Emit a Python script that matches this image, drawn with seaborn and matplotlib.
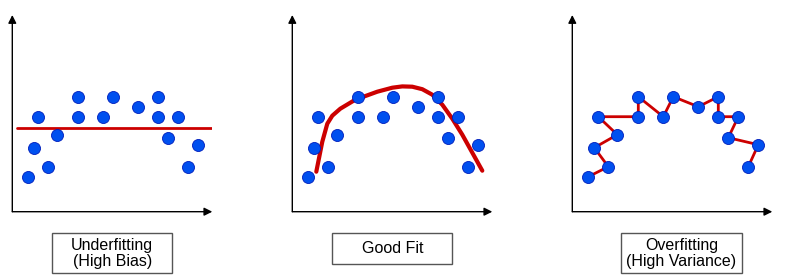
"""Underfitting / good fit / overfitting sketch."""
import matplotlib

matplotlib.use("Agg")
import matplotlib.pyplot as plt
import pandas as pd
import seaborn as sns
from matplotlib.patches import Rectangle

# shared sample points (same cloud in all three panels)
point_x = [16, 22, 26, 36, 45, 66, 66, 91, 101, 126, 146, 146, 156, 166, 176, 186]
point_y = [35, 64, 95, 45, 77, 115, 95, 95, 115, 105, 115, 95, 74, 95, 45, 67]

# underfitting: flat line
under_x = [5, 200]
under_y = [84, 84]

# good fit: smooth arch
good_x = [24, 30, 35, 40, 48, 63, 85, 100, 110, 120, 130, 140, 150, 160, 170, 180, 190]
good_y = [40, 70, 88, 96, 103, 112, 120, 124, 125.3, 125, 122.5, 117, 107, 93, 77, 59, 41]

# overfitting: zig-zag through every point, in this order
over_order = [0, 3, 1, 4, 2, 6, 5, 7, 8, 9, 10, 11, 13, 12, 15, 14]

labels = ["Underfitting\n(High Bias)", "Good Fit", "Overfitting\n(High Variance)"]

BLUE = "#0050EF"
BLUE_EDGE = "#001DBC"
RED = "#CC0000"

sns.set_style("white")
plt.rcParams["font.family"] = ["Liberation Sans", "DejaVu Sans"]

W, H = 788, 280
fig = plt.figure(figsize=(W / 100, H / 100), dpi=100)

points = pd.DataFrame({"x": point_x, "y": point_y})
over = points.iloc[over_order].reset_index(drop=True)
fits = [
    (pd.DataFrame({"x": under_x, "y": under_y}), 2.0),
    (pd.DataFrame({"x": good_x, "y": good_y}), 3.0),
    (over, 2.0),
]

origins = [12.3, 292.3, 572.3]
origin_y = 211.7
ax_w, ax_h = 200, 196.7

# label boxes in pixel coords: left, top, right, bottom
boxes = [(52.3, 233.3, 172.3, 273.3), (332.3, 233.3, 452.3, 264.0), (621.0, 233.3, 741.7, 273.3)]

for ox, (fit, lw), label, box in zip(origins, fits, labels, boxes):
    ax = fig.add_axes([ox / W, (H - origin_y) / H, ax_w / W, ax_h / H])
    sns.lineplot(data=fit, x="x", y="y", sort=False, estimator=None, color=RED, lw=lw, ax=ax, zorder=2)
    sns.scatterplot(data=points, x="x", y="y", s=75, color=BLUE, edgecolor=BLUE_EDGE, linewidth=0.6,
                    ax=ax, zorder=3)
    ax.set_xlim(0, ax_w)
    ax.set_ylim(0, ax_h)
    ax.set_xlabel("")
    ax.set_ylabel("")
    ax.set_xticks([])
    ax.set_yticks([])
    for sp in ax.spines.values():
        sp.set_visible(False)
    arrow = dict(arrowstyle="-|>", color="black", lw=1.0, mutation_scale=12, shrinkA=0, shrinkB=0)
    ax.annotate("", xy=(0, 1), xytext=(0, 0), xycoords="axes fraction", arrowprops=arrow)
    ax.annotate("", xy=(1, 0), xytext=(0, 0), xycoords="axes fraction", arrowprops=arrow)

    l, t, r, b = box
    fig.patches.append(Rectangle((l / W, 1 - b / H), (r - l) / W, (b - t) / H, transform=fig.transFigure,
                                 fill=False, edgecolor="#555555", lw=1.0))
    fig.text((l + r) / 2 / W, 1 - (t + b) / 2 / H, label, ha="center", va="center", fontsize=11.5,
             linespacing=1.05, color="black")

fig.savefig("out.png", dpi=100)
